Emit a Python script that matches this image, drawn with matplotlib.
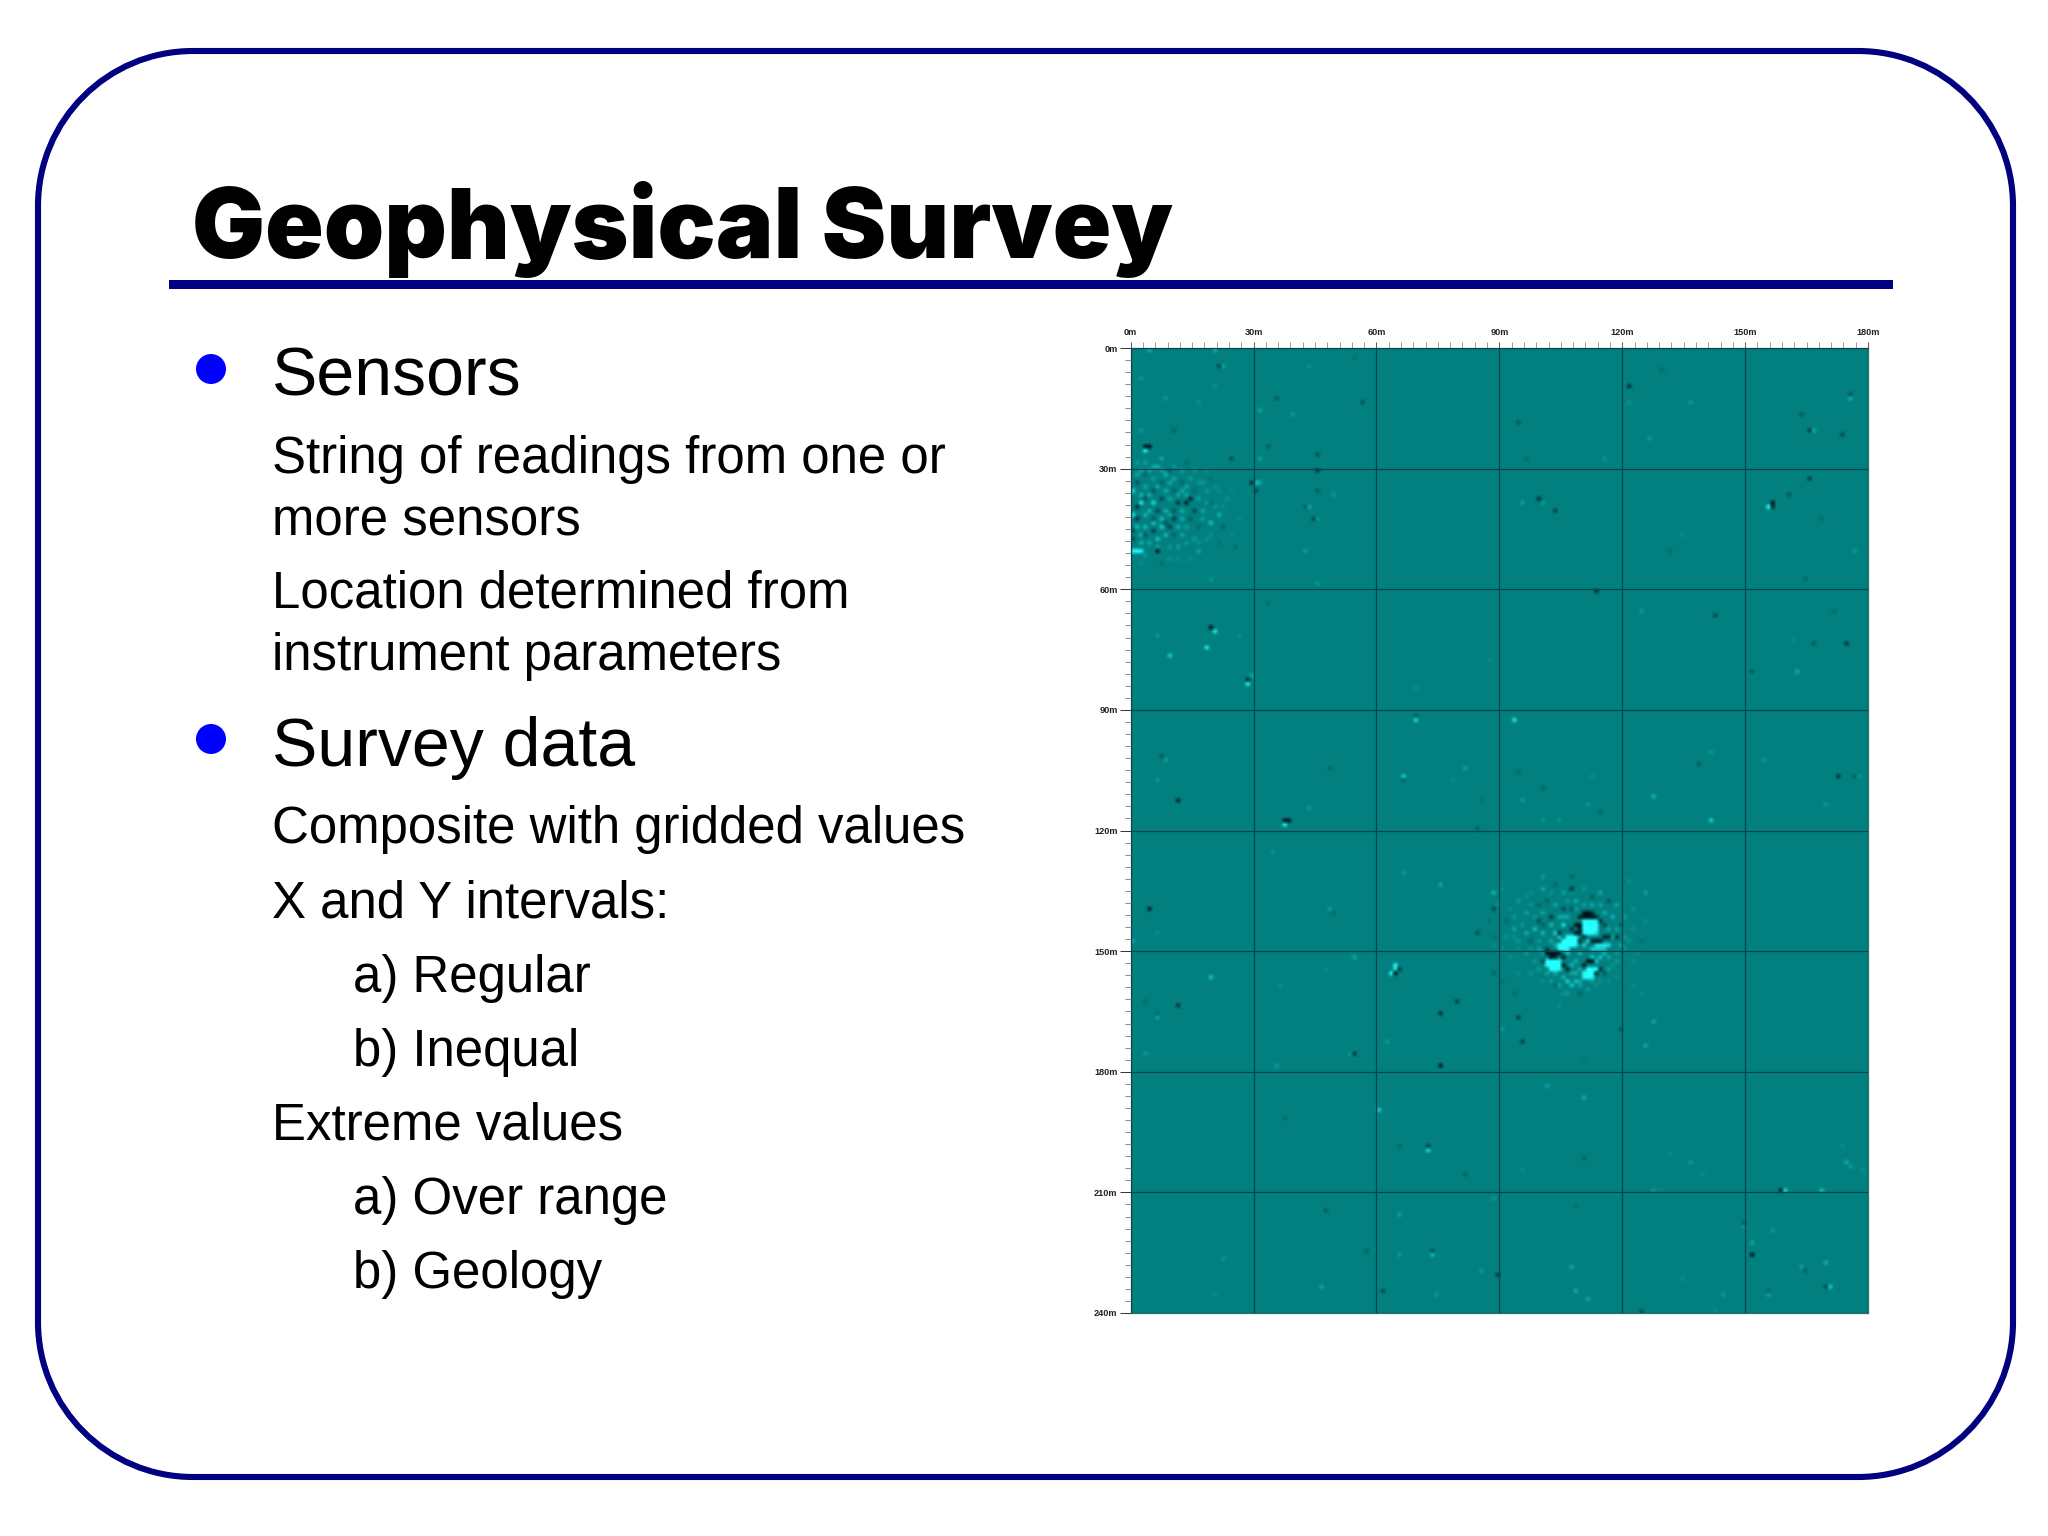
import numpy as np
import matplotlib
matplotlib.use('Agg')
import matplotlib.pyplot as plt
from matplotlib.colors import LinearSegmentedColormap
from matplotlib.patches import Circle, PathPatch, Rectangle
from matplotlib.path import Path

plt.rcParams['font.family'] = ['Liberation Sans', 'DejaVu Sans']

title = 'Geophysical Survey'
headings = [('Sensors', 369, 396), ('Survey data', 739, 766)]
body_lines = [
    ('String of readings from one or', 272, 473),
    ('more sensors', 272, 535),
    ('Location determined from', 272, 608),
    ('instrument parameters', 272, 670),
    ('Composite with gridded values', 272, 843),
    ('X and Y intervals:', 272, 917),
    ('a) Regular', 353, 992),
    ('b) Inequal', 353, 1066),
    ('Extreme values', 272, 1140),
    ('a) Over range', 353, 1214),
    ('b) Geology', 353, 1288),
]

survey_width = 180
survey_depth = 240
grid_labels = [0, 30, 60, 90, 120, 150, 180]
depth_labels = [0, 30, 60, 90, 120, 150, 180, 210, 240]

# readings as (x metres, y metres, value), -1 dark to 1 bright
isolated_spots = [
    (21.4, 4.4, -.5), (22, 4.4, .3), (4.3, .4, .35), (20.2, .4, .4), (2.7, 7.3, .2), (8.4, 12.4, .2),
    (16.5, 13.3, .15), (35.8, 12.3, -.35), (31.4, 15.3, .3), (39.5, 16.3, .2), (56, 13.3, -.4),
    (2.5, 20.3, .2), (10, 20.3, -.3), (3.9, 24.3, -1), (4.6, 24.3, -1), (3.7, 25.4, .9), (33, 24.3, -.35),
    (45.2, 26.4, -.45), (31.8, 27.5, .25), (24.4, 27.5, -.5), (45.8, 30.4, -.7), (29.2, 33.4, -.8),
    (30.1, 33.4, .5), (31, 33.4, .3), (30.4, 35.4, -.5), (45.8, 35.4, -.35), (49.7, 36.3, .2),
    (43.2, 39.4, .3), (42.6, 39.4, -.3), (44, 42.3, -.5), (45, 42.5, .2), (42.8, 50.3, .25),
    (45.6, 58.5, .2), (19, 57.5, .2), (33, 63.3, -.2), (54.4, 2.3, -.15), (43.4, 4.4, .15), (20.6, 9.1, .15),
    (19.8, 69.6, -1), (20.5, 70.5, .8), (18.9, 74.6, .8), (9.4, 76.5, .6), (6.5, 71.4, .2), (26, 71.6, .12),
    (28.7, 82.3, -.8), (29, 81.5, .3), (28.7, 83.6, .9), (7.7, 101.5, -.4), (8.1, 102.5, .25),
    (6.3, 107.5, .2), (11.6, 112.5, -.9), (38.4, 117.4, -1), (37.5, 117.4, -1), (37.8, 118.5, .85),
    (43.6, 114.5, .2), (48, 104.5, -.25), (69.7, 92.5, .7), (69.5, 91.5, -.3), (66.8, 106.6, .6),
    (66.6, 107.5, -.3), (81, 104.5, .25), (78.7, 107.5, .12), (69.5, 84.7, .15), (87.6, 77.4, .1),
    (4.6, 139.6, -.9), (.8, 147.7, .3), (6, 145.6, .12), (48.8, 139.6, .25), (49.5, 140.5, -.2),
    (34.4, 125.3, .15), (33, 63.5, -.2), (66, 130.7, .2), (75.2, 133.5, .3), (88.2, 135.7, .4),
    (88.4, 139.8, -.5), (84.3, 145.4, -.5), (84.1, 119.5, -.3), (85.3, 112.4, -.15),
    (121, 9.5, -.8), (94, 18.3, -.4), (129, 5.3, -.25), (136.1, 13.4, .2), (126.9, 22.5, .2),
    (175.7, 12.5, .4), (175.5, 11.3, -.4), (163.3, 16.4, -.4), (165, 20.4, -.6), (166.1, 20.4, .35),
    (173.5, 21.5, -.5), (121.2, 13.4, .15), (96.7, 27.4, -.25), (115.5, 27.4, .15), (99.5, 37.6, -.8),
    (100.2, 38.6, .2), (95.3, 38.5, .25), (103.7, 40.5, -.6), (165.6, 32.4, -.6), (160.8, 36.4, -.4),
    (156.2, 38.5, -1), (155.4, 39.6, .95), (156.3, 39.6, -.8), (168.4, 42.5, -.2), (176.2, 50.5, .2),
    (164.7, 57.5, -.25), (134.5, 46.5, .12), (131.8, 50.5, -.2), (113.8, 60.4, -.8), (124.4, 65.6, .2),
    (142.2, 66.5, -.5), (174.1, 73.5, -.7), (166.2, 73.9, -.35), (161.1, 72.9, .12), (162, 80.5, .35),
    (151, 80.5, -.4), (171, 65.6, -.2), (93.4, 92.5, .8), (94.5, 105.4, -.25), (100.8, 109.4, -.3),
    (95.5, 112.6, .2), (111.6, 113.3, .2), (114.7, 115.3, -.3), (100.8, 117, .15), (104.7, 117.8, .15),
    (112.2, 106.2, .12), (141.7, 100.6, .2), (138.6, 103.6, -.35), (127.3, 111.6, .4), (141.4, 117.5, .6),
    (154.5, 102.5, .2), (172.5, 106.6, -.7), (176.2, 106.5, -.3), (177.2, 106.6, .2), (169.5, 113.4, .2),
    (19.2, 156.5, .5), (11.9, 163.6, -.7), (6.4, 166.6, .25), (6.4, 165.4, -.2), (3.3, 175.6, .2),
    (3.3, 162.6, -.2), (54, 151.6, .3), (36.6, 158.5, .15), (47.9, 154.7, .1), (64.3, 153.7, .9),
    (63.2, 155.1, .9), (64, 154.2, .7), (64.3, 155.4, -1), (65.2, 154.8, -.7), (79.7, 162.6, -.6),
    (75.2, 165.5, -.8), (75.6, 178.6, -1), (54.4, 175.6, -.7), (53, 175.6, .2), (62.1, 172.6, .2),
    (35, 178.6, .2), (88.2, 155.7, -.25), (60.8, 189.6, .6), (72.9, 199.5, .7), (72.9, 198.5, -.6),
    (65.8, 198.5, -.25), (81, 205.6, -.3), (37.1, 191.5, -.2), (47.5, 214.4, -.35), (65.5, 215.7, .25),
    (57.5, 224.7, -.3), (73.4, 224.4, -.4), (73.5, 225.6, .45), (65.8, 225.6, .2), (85.3, 229.6, .2),
    (89.3, 230.6, -.7), (61, 234.6, -.5), (74.1, 235.8, .2), (22.8, 226.5, .2), (46.7, 233.7, .3),
    (20, 235.6, .12), (88, 211.5, .2), (94.7, 166.6, -.6), (95, 172.6, -.6), (90.6, 169.6, .2),
    (119.7, 169.6, -.4), (127.7, 167.4, .3), (125.2, 173.5, .3), (101.1, 183, .25), (110.2, 186.2, .35),
    (110.6, 201.3, -.3), (95.3, 204.5, .15), (136.1, 202.4, .2), (131.9, 200.5, .12), (127.1, 209.7, .2),
    (139.5, 205.7, .1), (149.5, 218.6, .2), (149.5, 217.6, -.3), (151.9, 222.7, .3), (151.7, 225.1, -1),
    (107.9, 228.7, .3), (108.7, 234.6, .35), (111.6, 236.6, .3), (144.1, 235.6, .2), (134, 231, .12),
    (124, 239, -.4), (142.5, 239, .12), (108.5, 213.6, -.2), (158.5, 209, -.9), (159.4, 209, .7),
    (168, 209.6, .45), (174.5, 202.4, .35), (175, 203.4, .2), (173.5, 198.6, .12), (178.2, 204.5, .15),
    (156, 219.6, .2), (163.5, 228.5, .25), (169.9, 227.5, .35), (164.5, 229.5, -.3), (170, 233.5, .6),
    (169, 233.5, -.5), (155.2, 235.6, .25), (155.2, 234.6, -.25),
]

sensor_patch = [
    (.7, 35.5, .7), (2, 38.4, .8), (5.7, 38.6, .7), (.5, 41.5, .8), (.7, 50.4, 1), (1.5, 50.4, 1), (2.3, 50.4, .9),
    (6.5, 50.4, -1), (16, 50.4, -.7), (16.8, 50.4, .3), (13.5, 38.4, -.9), (14.7, 37.4, -.8), (11.6, 38.4, -.7),
    (1.9, 39.6, -.8), (10.8, 42.5, -.7), (1.9, 42.5, -.7), (7, 44.4, .6), (5.7, 45.9, -.6), (9.9, 44.4, -.6),
    (6.5, 47.7, .5), (19.8, 43.4, .5), (21.7, 41.2, .4), (8.6, 31.5, .4), (6.2, 29, .35), (7.9, 27.5, .3),
    (.4, 45.3, -.5), (.4, 47.7, -.5), (1, 28, .2), (3, 28.5, .25), (5, 29.5, .3), (10, 29, .2), (13, 28.5, -.2),
    (1, 31, .3), (3, 31.5, -.3), (5, 32, .25), (7, 33, -.35), (10, 32, .3), (12, 33, -.25), (14, 32, .25),
    (17, 33, .2), (19, 32, -.15), (1, 33.5, -.4), (3, 34.5, .3), (5, 35, -.4), (8, 35.5, .35), (10, 35, -.35),
    (12, 35.5, .3), (15, 35, -.2), (18, 35.5, .2), (3, 37, -.35), (7, 37, -.55), (9, 37.5, .3), (11, 36.5, .3),
    (16, 37, .25), (19, 38, -.2), (4, 40, .4), (6, 40.5, -.5), (8, 40, .4), (10, 40, -.4), (12, 40.5, .35),
    (15, 40, -.5), (17, 40, .3), (20, 39, .2), (3, 41.5, .4), (5, 42, -.4), (7, 42, .5), (9, 41.5, .3),
    (12, 42, .35), (14, 42.5, -.3), (17, 42, .25), (1, 44, .45), (3, 44.5, .45), (5, 43.5, .5), (8, 43, -.45),
    (11, 44.5, .35), (13, 44, .25), (16, 44.5, -.2), (22, 44.5, -.25), (2, 46, .35), (3.5, 46.5, -.4), (8, 46, .45),
    (10, 46.5, -.3), (12, 46, .3), (15, 47, .25), (6, 49, .3), (9, 49, .2), (11, 49.5, .25), (25, 49, -.2),
    (18, 47, .15), (24, 46, .1), (2, 53, .12), (7, 53, -.15), (11, 52.5, .12), (21, 35, .12), (23, 37.5, .15),
    (2, 30, .35), (4, 30.5, .3), (7, 30, .3), (9, 30.5, -.2), (12, 30.5, .25), (15, 30, .2), (18, 30.5, .12),
    (6, 34, .35), (9, 33.5, .3), (13, 34, .3), (16, 33.5, .15), (20, 34, .12), (2, 36, .4), (4, 36.5, .35),
    (13, 36.5, .3), (18, 38.5, .2), (22, 39, .1), (2, 48, .35), (4, 48.5, .3), (13, 48.5, .2), (16, 48.5, .15),
    (19, 46, .12), (21, 48, -.15), (26, 42, .1), (24, 35, .08), (3, 51.5, .2), (9, 52, .15), (14, 52, .1),
]

target_cells = [
    (113, 148, .7), (114, 148, .8), (115, 148, .8), (116, 148, .7), (112, 149, .6), (113, 149, .6), (114, 149, .6),
    (115, 149, .5), (111, 147, .6), (110, 148, .6), (112, 151, .6), (113, 152, .5), (114, 151, .5), (115, 150, .4),
    (103, 155, .35), (106, 157, .6), (107, 158, .55), (108, 157, .45), (109, 157, .3), (105, 156, .4), (110, 156, .6),
    (107, 153, .4), (108, 152, .35), (109, 150, .4), (106, 150, .5), (104, 146, .5), (103, 145, .6), (105, 143, .7),
    (102, 147, .3), (100, 145, .4), (98, 144, .5), (96, 145, .35), (93, 144, .3),
    # dark rims
    (110, 140, -.9), (111, 140, -1), (112, 140, -.7), (109, 141, -.9), (110, 141, -1), (111, 141, -1), (112, 141, -1),
    (113, 141, -.8), (108, 143, -.9), (109, 143, -1), (109, 144, -1), (108, 145, -.9), (109, 145, -.9),
    (101, 150, -1), (102, 150, -1), (103, 150, -1), (104, 150, -1), (102, 151, -1), (103, 151, -.8), (105, 151, -.9),
    (111, 152, -1), (112, 152, -1), (110, 153, -.9), (105, 153, -.9), (106, 154, -.9), (113, 155, -.7), (114, 154, -.7),
    (112, 147, -.9), (113, 147, -1), (114, 147, -.9), (115, 146, -.8), (116, 146, -.7), (109, 147, -.7), (110, 146, -.8),
    (118, 146, -.7), (101, 149, -.6), (100, 152, -.5), (104, 145, -.7), (107, 144, -.7), (99, 142, -.5), (102, 141, -.7),
    (105, 139, -.5), (114, 142, -.7), (115, 143, -.5),
    # halo
    (107, 134, -.7), (107, 135, .1), (107, 131, -.3), (100, 131, .2), (100, 134, .3), (103, 133, -.25), (105, 135, .25),
    (108, 137, .35), (110, 134, .2), (112, 136, -.35), (114, 135, .3), (116, 137, -.4), (118, 138, .3), (115, 140, .35),
    (117, 141, .4), (119, 143, -.3), (97, 135, .1), (94, 137, .2), (101, 137, -.3), (103, 138, .3), (99, 138, -.25),
    (96, 140, .25), (93, 141, .2), (91, 142, -.2), (100, 140, .3), (104, 141, .35), (106, 141, .3), (107, 139, -.4),
    (116, 144, .3), (118, 144, .25), (120, 146, .2), (122, 144, .15), (124, 147, -.15), (97, 147, -.25), (94, 147, .2),
    (91, 146, .15), (88, 146, -.15), (99, 149, .3), (96, 150, .2), (92, 151, .12), (118, 150, .2), (120, 149, .15),
    (117, 153, .15), (115, 155, -.35), (116, 157, .1), (99, 154, .25), (97, 155, .15), (100, 157, .12), (103, 158, -.2),
    (105, 160, .15), (109, 160, -.3), (111, 159, .2), (113, 158, .15), (94, 155, .1), (93, 160, -.2), (90, 157, -.15),
    (104, 163, .1), (125, 135, .25), (121, 132, .12), (122, 139, .12), (125, 142, .12), (122, 152, .12),
    (88, 148, .12), (90, 134, .1), (89, 138, .15), (87, 142, -.15), (122, 158, .12), (124, 160, .1), (110, 176, -.1),
    (98, 141, .2), (95, 143, .2), (102, 143, .4), (100, 143, -.25), (105, 141, .3), (108, 139, .25), (110, 138, .25),
    (112, 138, .3), (114, 138, .25), (102, 135, .15), (106, 137, .2), (97, 138, .15), (92, 139, .12), (96, 136, .1),
    (120, 141, .2), (121, 147, .15), (119, 148, .3), (117, 146, .3), (118, 152, .2), (116, 151, .3), (116, 154, .25),
    (99, 147, .2), (97, 149, .15), (94, 149, .12), (98, 152, .2), (100, 150, .25), (101, 155, .3), (102, 157, .2),
    (104, 158, .3), (107, 155, .25), (108, 155, .35), (109, 154, .3), (109, 158, .3), (106, 160, .2), (112, 157, .2),
    (114, 157, .15), (118, 156, .1), (93, 146, .15), (90, 149, .1), (123, 150, .1), (103, 148, .3),
]

# brightest blocks of the target, read last so they stay on top
target_blocks = [
    (110, 142, 1), (111, 142, 1), (112, 142, 1), (113, 142, .9), (110, 143, 1), (111, 143, 1), (112, 143, 1), (113, 143, 1),
    (110, 144, 1), (111, 144, 1), (112, 144, 1), (113, 144, 1), (110, 145, .9), (111, 145, 1), (112, 145, 1), (113, 145, .8),
    (106, 146, 1), (107, 146, 1), (108, 146, .9), (105, 147, 1), (106, 147, 1), (107, 147, 1), (108, 147, 1),
    (104, 148, 1), (105, 148, 1), (106, 148, 1), (107, 148, 1), (108, 148, .9), (104, 149, .9), (105, 149, 1), (106, 149, .9),
    (101, 152, 1), (102, 152, 1), (103, 152, 1), (104, 152, .9), (101, 153, 1), (102, 153, 1), (103, 153, 1), (104, 153, 1),
    (102, 154, 1), (103, 154, 1), (104, 154, .9),
    (111, 154, 1), (112, 154, 1), (113, 154, 1), (110, 155, 1), (111, 155, 1), (112, 155, 1), (110, 156, .9), (111, 156, 1), (112, 156, .9),
]

fig = plt.figure(figsize=(20.48, 15.36), dpi=100, facecolor='white')

# slide layer in pixel coordinates
slide = fig.add_axes([0, 0, 1, 1])
slide.set_xlim(0, 2048)
slide.set_ylim(1536, 0)
slide.axis('off')

navy = '#000080'


def rounded_frame(x0, y0, x1, y1, r):
    k = r * .5523
    verts = [(x0 + r, y0), (x1 - r, y0),
             (x1 - r + k, y0), (x1, y0 + r - k), (x1, y0 + r), (x1, y1 - r),
             (x1, y1 - r + k), (x1 - r + k, y1), (x1 - r, y1), (x0 + r, y1),
             (x0 + r - k, y1), (x0, y1 - r + k), (x0, y1 - r), (x0, y0 + r),
             (x0, y0 + r - k), (x0 + r - k, y0), (x0 + r, y0)]
    codes = [Path.MOVETO, Path.LINETO] + [Path.CURVE4] * 3 + [Path.LINETO] + [Path.CURVE4] * 3 + \
            [Path.LINETO] + [Path.CURVE4] * 3 + [Path.LINETO] + [Path.CURVE4] * 3
    return Path(verts, codes)


slide.add_patch(PathPatch(rounded_frame(38, 51, 2013, 1477, 155), fc='white', ec=navy, lw=4.4))
slide.add_patch(Rectangle((169, 279.5), 1724, 9, fc=navy, ec='none'))

slide.text(192, 258, title, fontsize=69.8, fontweight=900, family=['Inter', 'Liberation Sans'], color='black',
           va='baseline')

for text, y, base in headings:
    slide.add_patch(Circle((211, y), 15, fc='#0000ff', ec='none'))
    slide.text(272, base, text, fontsize=49, color='black', va='baseline')

for text, x, base in body_lines:
    slide.text(x, base, text, fontsize=36.7, color='black', va='baseline')

# survey grid
values = np.zeros((survey_depth, survey_width))
for x, y, v in isolated_spots + sensor_patch + target_cells + target_blocks:
    values[min(int(y), survey_depth - 1), min(int(x), survey_width - 1)] = v

cmap = LinearSegmentedColormap.from_list('survey', ['#00141c', '#028080', '#28ffff'])

ax = fig.add_axes([1130.7 / 2048, 1 - 1313 / 1536, 737.3 / 2048, 965 / 1536])
ax.imshow(values, cmap=cmap, vmin=-1, vmax=1, extent=[0, survey_width, survey_depth, 0],
          aspect='auto', interpolation='bilinear')

ax.set_xticks(grid_labels)
ax.set_yticks(depth_labels)
ax.set_xticklabels([f'{v}m' for v in grid_labels])
ax.set_yticklabels([f'{v}m' for v in depth_labels])
ax.set_xticks(np.arange(0, survey_width + 1, 3), minor=True)
ax.set_yticks(np.arange(0, survey_depth + 1, 3), minor=True)
ax.xaxis.tick_top()
ax.tick_params(axis='x', which='major', length=4.5, width=.7, color='#555555', pad=3.5, labelsize=6.6)
ax.tick_params(axis='x', which='minor', length=4.5, width=.6, color='#888888', top=True, bottom=False)
ax.tick_params(axis='y', which='major', length=8, width=.7, color='#333333', pad=1.5, labelsize=6.6)
ax.tick_params(axis='y', which='minor', length=4.5, width=.6, color='#777777')
for label in ax.get_xticklabels() + ax.get_yticklabels():
    label.set_fontweight('bold')
    label.set_color('#222222')
ax.grid(True, which='major', color='#08424a', lw=.9)
ax.set_axisbelow(False)
for spine in ax.spines.values():
    spine.set_color('#2f6f70')
    spine.set_linewidth(.9)

fig.savefig('out.png', dpi=100)
